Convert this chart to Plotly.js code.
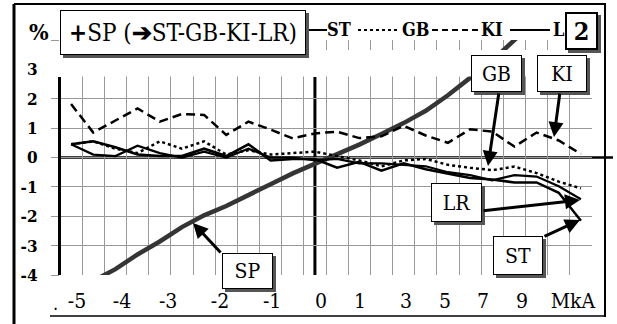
<!DOCTYPE html>
<html><head><meta charset="utf-8">
<script src="https://cdn.plot.ly/plotly-3.0.1.min.js"></script>
<style>html,body{margin:0;padding:0;background:#fff}#chart{width:617px;height:324px}</style>
</head><body><div id="chart"></div>
<script>
// category positions (one point per category)
const points = [0,1,2,3,4,5,6,7,8,9,10,11,12,13,14,15,16,17,18,19,20,21,22,23];
// series values, %
const SP = [-4.6,-4.2,-3.8,-3.3,-2.86,-2.37,-1.97,-1.65,-1.3,-0.91,-0.54,-0.22,0.08,0.44,0.8,1.17,1.59,2.12,2.71,3.3,4.0,4.7,5.4,6.1];
const ST = [0.45,0.55,0.35,0.1,0.05,0.05,0.3,0.05,0.45,-0.1,-0.05,-0.05,-0.35,-0.15,-0.45,-0.2,-0.4,-0.55,-0.7,-0.75,-0.85,-0.85,-1.2,-2.15];
const GB = [0.45,0.55,0.3,0.15,0.55,0.3,0.55,0.1,0.25,0.1,0.15,0.2,0.05,-0.1,-0.3,-0.1,-0.05,-0.25,-0.35,-0.43,-0.31,-0.53,-0.82,-1.05];
const KI = [1.82,0.85,1.26,1.67,1.22,1.48,1.45,0.77,1.22,0.95,0.65,0.82,0.88,0.66,0.72,1.08,0.75,0.5,0.96,0.88,0.37,0.85,0.58,0.12];
const LR = [0.45,0.1,0.05,0.4,0.15,0.0,0.2,0.0,0.3,0.0,0.0,-0.1,-0.05,-0.2,-0.2,-0.25,-0.3,-0.5,-0.6,-0.78,-0.6,-0.65,-0.98,-1.42];
// tick labels
const xTickPos = [0.27,2.3,4.38,6.72,9.07,11.28,13.04,15.11,16.87,18.58,20.34,22.64];
const xTickText = ['-5','-4','-3','-2','-1','0','1','3','5','7','9','MkA'];
const yTickVals = [-4,-3,-2,-1,0,1,2,3,4];
const yTickText = ['-4','-3','-2','-1','0','1','2','3',''];

const serif = '"DejaVu Serif Condensed", "DejaVu Serif"';
const px2x = p => (p - 60) / 532;
const py2y = p => (275 - p) / 235;

const traces = [
  {x: points, y: SP, mode: 'lines', line: {color: '#353535', width: 4.5}},
  {x: points, y: KI, mode: 'lines', line: {color: '#000', width: 2.5, dash: '9px,5px'}},
  {x: points, y: GB, mode: 'lines', line: {color: '#000', width: 2.5, dash: 'dot'}},
  {x: points, y: LR, mode: 'lines', line: {color: '#000', width: 2.2}},
  {x: points, y: ST, mode: 'lines', line: {color: '#000', width: 2.5}}
];

const shapes = [];
const annotations = [];
function pline(x0, y0, x1, y1, w, dash) {
  shapes.push({type: 'line', xref: 'paper', yref: 'paper', x0: px2x(x0), y0: py2y(y0), x1: px2x(x1), y1: py2y(y1),
    line: {color: '#000', width: w, dash: dash || 'solid'}, layer: 'above'});
}
shapes.push({type: 'rect', xref: 'paper', yref: 'paper', x0: px2x(50), x1: px2x(600), y0: py2y(76.5), y1: py2y(50),
  fillcolor: '#fff', line: {width: 0}, layer: 'above'});
shapes.push({type: 'line', xref: 'paper', yref: 'y', x0: 0, x1: px2x(613), y0: 0, y1: 0, line: {color: '#000', width: 2.5}, layer: 'between'});
shapes.push({type: 'line', xref: 'x', yref: 'paper', x0: 11, x1: 11, y0: 0, y1: py2y(77), line: {color: '#000', width: 3}, layer: 'between'});
shapes.push({type: 'line', xref: 'paper', yref: 'paper', x0: px2x(59.5), x1: px2x(59.5), y0: 0, y1: py2y(77), line: {color: '#000', width: 3}, layer: 'above'});
pline(14, 4, 14, 324, 3);
pline(14, 4, 606, 4, 2);
pline(605, 4, 605, 317, 2);
pline(50, 316, 605, 316, 1.5);
pline(307, 30, 327, 30, 2);
pline(358, 30, 397, 30, 2, 'dot');
pline(432, 30, 480, 30, 2, '6px,4px');
pline(510, 30, 550, 30, 2);

function shadow(x0, y0, x1, y1) {
  shapes.push({type: 'rect', xref: 'paper', yref: 'paper', x0: px2x(x0 + 3), x1: px2x(x1 + 3), y0: py2y(y1 + 3), y1: py2y(y0 + 3),
    fillcolor: '#555', line: {width: 0}, layer: 'above'});
}
function arrow(tx, ty, hx, hy) {
  annotations.push({xref: 'paper', yref: 'paper', x: px2x(hx), y: py2y(hy), ax: tx - hx, ay: ty - hy, text: '',
    showarrow: true, arrowhead: 2, arrowsize: 1, arrowwidth: 3, arrowcolor: '#000', standoff: 0});
}
function box(x0, y0, x1, y1, text, size, bw, bold) {
  shadow(x0, y0, x1, y1);
  annotations.push({xref: 'paper', yref: 'paper', x: px2x(x0), y: py2y(y0), xanchor: 'left', yanchor: 'top',
    width: (x1 - x0) - 2 * bw, height: (y1 - y0) - 2 * bw, borderwidth: bw, borderpad: 0, bordercolor: '#000',
    bgcolor: '#fff', showarrow: false, text: bold ? '<b>' + text + '</b>' : text, align: 'center', valign: 'middle',
    font: {family: serif, size: size, color: '#000'}});
}
function label(cx, cy, text, size, bold, anchor) {
  annotations.push({xref: 'paper', yref: 'paper', x: px2x(cx), y: py2y(cy), xanchor: anchor || 'center', yanchor: 'middle',
    text: bold ? '<b>' + text + '</b>' : text, showarrow: false, font: {family: serif, size: size, color: '#000'}});
}

arrow(222, 254, 193, 223);
arrow(499, 92, 488, 166);
arrow(560, 92, 554, 137);
arrow(482, 211, 580, 200);
arrow(543, 237, 580, 220);

box(60, 10, 306, 55, '<b>+</b>SP (<b>➔</b>ST-GB-KI-LR)', 24, 1, false);
label(339, 30, 'ST', 18, true);
label(416, 30, 'GB', 18, true);
label(492, 30, 'KI', 18, true);
label(551, 30, 'L', 18, true, 'left');
box(565, 12, 598, 50, '2', 25, 2, true);
box(471, 55, 522, 92, 'GB', 21, 1, false);
box(537, 55, 587, 92, 'KI', 21, 1, false);
box(431, 183, 482, 222, 'LR', 21, 1, false);
box(493, 236, 543, 275, 'ST', 21, 1, false);
box(222, 253, 273, 289, 'SP', 21, 1, false);
label(39, 31, '%', 23, true);
label(55, 303, '.', 18, false);

const layout = {
  width: 617, height: 324,
  margin: {l: 60, r: 25, t: 40, b: 49},
  font: {family: serif, color: '#000'},
  paper_bgcolor: '#fff', plot_bgcolor: '#fff',
  showlegend: false,
  xaxis: {range: [-0.5, 23.5], tickmode: 'array', tickvals: xTickPos, ticktext: xTickText,
    showgrid: false, zeroline: false, showline: false, ticks: '',
    tickfont: {family: serif, size: 21, color: '#000'}, ticklabelstandoff: 11,
    minor: {tickmode: 'linear', tick0: 0.5, dtick: 1, showgrid: true, gridcolor: '#999', gridwidth: 1, ticks: ''}},
  yaxis: {range: [-4, 4], tickmode: 'array', tickvals: yTickVals, ticktext: yTickText.map(t => t ? '<b>' + t + '</b>' : t),
    showgrid: true, gridcolor: '#999', gridwidth: 1, zeroline: false, showline: false,
    ticks: 'outside', ticklen: 8, tickcolor: '#999', tickwidth: 1, ticklabelstandoff: 10,
    tickfont: {family: serif, size: 17, color: '#000'}},
  shapes: shapes,
  annotations: annotations
};
Plotly.newPlot('chart', traces, layout, {staticPlot: true, displayModeBar: false});
</script></body></html>
